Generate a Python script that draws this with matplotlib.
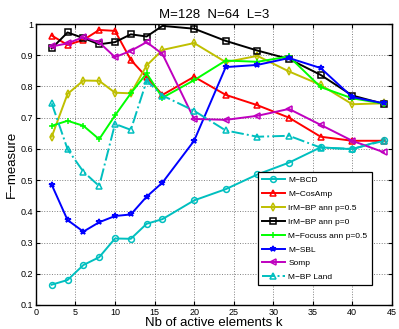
import matplotlib
matplotlib.use('Agg')
import matplotlib.pyplot as plt

plt.rcParams['font.family'] = ['Liberation Sans', 'DejaVu Sans']

k = [2, 4, 6, 8, 10, 12, 14, 16, 20, 24, 28, 32, 36, 40, 44]

m_bcd = [0.165, 0.18, 0.228, 0.253, 0.313, 0.312, 0.36, 0.375, 0.435, 0.471, 0.518, 0.556, 0.605, 0.599, 0.629]
m_cosamp = [0.963, 0.933, 0.949, 0.981, 0.978, 0.885, 0.83, 0.773, 0.831, 0.773, 0.74, 0.70, 0.639, 0.626, 0.626]
irm_bp_05 = [0.639, 0.776, 0.819, 0.818, 0.78, 0.778, 0.867, 0.917, 0.939, 0.878, 0.898, 0.848, 0.805, 0.743, 0.746]
irm_bp_0 = [0.922, 0.973, 0.955, 0.935, 0.942, 0.967, 0.96, 0.994, 0.985, 0.946, 0.915, 0.888, 0.837, 0.771, 0.744]
m_focuss = [0.674, 0.69, 0.674, 0.631, 0.707, 0.778, 0.842, 0.764, 0.82, 0.883, 0.879, 0.896, 0.798, 0.762, 0.745]
m_sbl = [0.485, 0.372, 0.335, 0.365, 0.385, 0.39, 0.447, 0.492, 0.626, 0.862, 0.869, 0.891, 0.859, 0.766, 0.746]
somp = [0.928, 0.938, 0.958, 0.941, 0.894, 0.914, 0.942, 0.904, 0.696, 0.693, 0.706, 0.728, 0.677, 0.626, 0.589]
m_bp_land = [0.746, 0.599, 0.527, 0.481, 0.68, 0.661, 0.818, 0.771, 0.722, 0.659, 0.639, 0.642, 0.604, 0.6, 0.626]

series = [
    ('M\u2212BCD', m_bcd, 'c', 'o', '-'),
    ('M\u2212CosAmp', m_cosamp, 'r', '^', '-'),
    ('IrM\u2212BP ann p=0.5', irm_bp_05, 'y', 'd', '-'),
    ('IrM\u2212BP ann p=0', irm_bp_0, 'k', 's', '-'),
    ('M\u2212Focuss ann p=0.5', m_focuss, 'lime', '+', '-'),
    ('M\u2212SBL', m_sbl, 'b', '*', '-'),
    ('Somp', somp, 'm', '<', '-'),
    ('M\u2212BP Land', m_bp_land, 'c', '^', '-.'),
]

fig = plt.figure(figsize=(3.99, 3.29), dpi=100)
ax = fig.add_axes([0.090, 0.073, 0.892, 0.854])

for name, vals, col, mk, ls in series:
    ax.plot(k, vals, color=col, marker=mk, linestyle=ls, linewidth=1.4,
            markersize=4.2, markerfacecolor='none', markeredgewidth=1.1, label=name)

ax.set_xlim(0, 45)
ax.set_ylim(0.1, 1.0)
ax.set_xticks(range(0, 46, 5))
ax.set_yticks([0.1, 0.2, 0.3, 0.4, 0.5, 0.6, 0.7, 0.8, 0.9, 1.0])
ax.set_yticklabels(['0.1', '0.2', '0.3', '0.4', '0.5', '0.6', '0.7', '0.8', '0.9', '1'])
ax.tick_params(direction='in', labelsize=6.5, top=True, right=True, length=3, pad=2)
ax.grid(True, linestyle=':', color='gray', linewidth=0.7)
for s in ax.spines.values():
    s.set_linewidth(1.0)

ax.set_xlabel('Nb of active elements k', fontsize=9.5, labelpad=0)
ax.set_ylabel('F\u2212measure', fontsize=9.5, labelpad=2)
ax.set_title('M=128  N=64  L=3', fontsize=9.5, pad=4)

leg = ax.legend(loc='lower right', bbox_to_anchor=(0.955, 0.055), fontsize=6,
                fancybox=False, edgecolor='k', framealpha=1, handlelength=2.8,
                labelspacing=0.72, borderpad=0.5, handletextpad=0.4)
leg.get_frame().set_linewidth(0.9)

fig.savefig('out.png', dpi=100)
